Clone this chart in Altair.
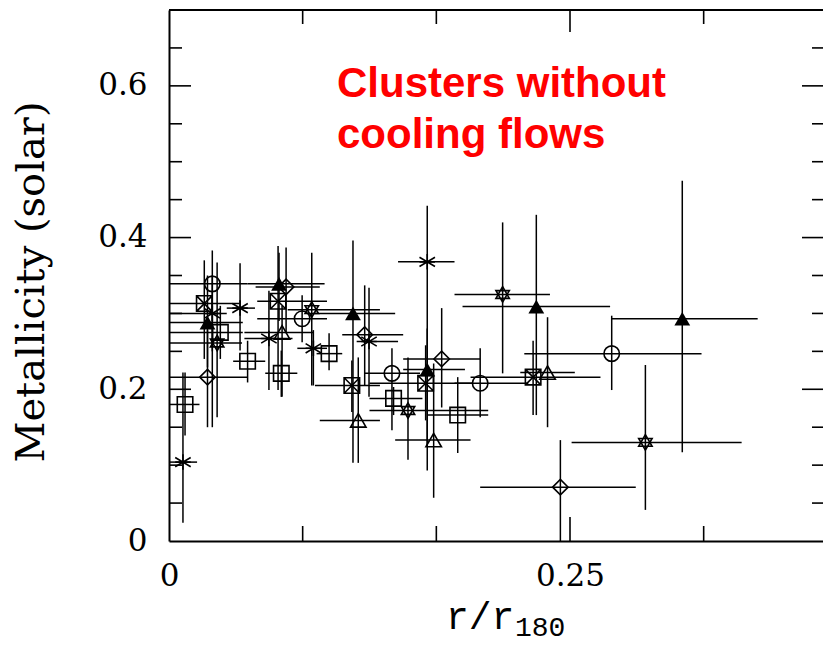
import altair as alt
import pandas as pd

# ---- data (r/r180, metallicity in solar units) ----
kind = ["ast", "square", "diamond", "ftri", "circle", "boxx", "ast", "square", "star", "ast",
        "square", "ast", "boxx", "ftri", "diamond", "tri", "square", "circle", "star", "ast",
        "square", "ftri", "boxx", "tri", "diamond", "ast", "ast", "star", "ftri", "diamond",
        "circle", "ftri", "boxx", "circle", "boxx", "tri", "square", "star", "square", "tri",
        "ftri", "circle", "star", "diamond"]
x_val = [0.0087, 0.010, 0.024, 0.024, 0.027, 0.022, 0.027, 0.032, 0.030, 0.0443,
         0.049, 0.0623, 0.068, 0.0686, 0.073, 0.0705, 0.070, 0.083, 0.089, 0.090,
         0.0998, 0.1147, 0.114, 0.118, 0.122, 0.1247, 0.161, 0.208, 0.229, 0.170,
         0.139, 0.161, 0.160, 0.194, 0.227, 0.236, 0.140, 0.149, 0.180, 0.165,
         0.320, 0.276, 0.297, 0.244]
y_val = [0.104, 0.180, 0.216, 0.288, 0.339, 0.313, 0.300, 0.275, 0.261, 0.307,
         0.237, 0.267, 0.316, 0.339, 0.335, 0.275, 0.221, 0.293, 0.305, 0.254,
         0.247, 0.300, 0.205, 0.159, 0.272, 0.263, 0.368, 0.325, 0.309, 0.240,
         0.221, 0.226, 0.208, 0.208, 0.216, 0.222, 0.188, 0.172, 0.166, 0.133,
         0.293, 0.247, 0.130, 0.071]
x_lo = [0.0006, 0.0, 0.0, 0.0, 0.0, 0.0, 0.0, 0.0, 0.0, 0.036,
        0.040, 0.047, 0.055, 0.049, 0.054, 0.047, 0.060, 0.055, 0.074, 0.080,
        0.092, 0.090, 0.091, 0.094, 0.108, 0.117, 0.1428, 0.178, 0.183, 0.146,
        0.122, 0.146, 0.125, 0.178, 0.188, 0.219, 0.125, 0.125, 0.161, 0.141,
        0.276, 0.2215, 0.251, 0.194]
x_hi = [0.0175, 0.019, 0.049, 0.046, 0.049, 0.044, 0.036, 0.046, 0.0455, 0.0536,
        0.060, 0.077, 0.0985, 0.097, 0.094, 0.090, 0.080, 0.0985, 0.1315, 0.0985,
        0.108, 0.141, 0.1315, 0.1315, 0.146, 0.1428, 0.178, 0.2375, 0.275, 0.194,
        0.1565, 0.1845, 0.1895, 0.224, 0.269, 0.253, 0.158, 0.199, 0.199, 0.188,
        0.367, 0.332, 0.357, 0.291]
y_lo = [0.024, 0.139, 0.150, 0.229, 0.150, 0.240, 0.250, 0.240, 0.163, 0.251,
        0.209, 0.199, 0.199, 0.290, 0.274, 0.190, 0.190, 0.262, 0.205, 0.205,
        0.225, 0.103, 0.170, 0.103, 0.205, 0.190, 0.126, 0.221, 0.166, 0.176,
        0.146, 0.093, 0.159, 0.163, 0.166, 0.150, 0.166, 0.107, 0.116, 0.057,
        0.117, 0.199, 0.041, 0.0]
y_hi = [0.222, 0.222, 0.278, 0.350, 0.383, 0.370, 0.350, 0.310, 0.367, 0.366,
        0.264, 0.330, 0.389, 0.380, 0.387, 0.310, 0.251, 0.324, 0.380, 0.278,
        0.274, 0.396, 0.238, 0.242, 0.337, 0.334, 0.442, 0.420, 0.430, 0.307,
        0.254, 0.280, 0.258, 0.254, 0.264, 0.295, 0.203, 0.242, 0.216, 0.234,
        0.475, 0.297, 0.232, 0.133]

y_minor_ticks = [0.05, 0.10, 0.15, 0.25, 0.30, 0.35, 0.45, 0.50, 0.55, 0.65]
y_major_ticks = [0.2, 0.4, 0.6]
x_minor_ticks = [1 / 12, 2 / 12, 4 / 12]
x_major_ticks = [0.25]
y_labels = [0, 0.2, 0.4, 0.6]
x_labels = [0, 0.25]

df = pd.DataFrame({"kind": kind, "x": x_val, "y": y_val,
                   "xlo": x_lo, "xhi": x_hi, "ylo": y_lo, "yhi": y_hi})

# svg = 161 + 654 = 815 px wide (the page body width), so it is not shrunk
W, H = 654, 531
xs = alt.Scale(domain=[0, 0.40773], nice=False, zero=False)
ys = alt.Scale(domain=[0, 0.7], nice=False, zero=False)

LABEL_FONT = "DejaVu Serif"

x_axis = alt.Axis(values=x_labels, format=".2~f", labelFont=LABEL_FONT, labelFontSize=31,
                  labelColor="black", labelPadding=20, labelFlush=False, labelOverlap=False,
                  ticks=False, tickSize=0, grid=False, domain=True, domainColor="black",
                  domainWidth=2, title=None)
y_axis = alt.Axis(values=y_labels, format=".1~f", labelFont=LABEL_FONT, labelFontSize=31,
                  labelColor="black", labelPadding=22, labelFlush=False, labelOverlap=False,
                  ticks=False, tickSize=0, grid=False, domain=True, domainColor="black",
                  domainWidth=2, title=None)

base = alt.Chart(df)
BAR = dict(color="black", strokeWidth=1.5)

hbars = base.mark_rule(**BAR).encode(
    x=alt.X("xlo:Q", scale=xs, axis=x_axis),
    x2="xhi:Q",
    y=alt.Y("y:Q", scale=ys, axis=y_axis),
)
vbars = base.mark_rule(**BAR).encode(
    x=alt.X("x:Q", scale=xs, axis=x_axis),
    y=alt.Y("ylo:Q", scale=ys, axis=y_axis),
    y2="yhi:Q",
)

BOXX = "M-1,-1L1,-1L1,1L-1,1Z M-1,-1L1,1 M1,-1L-1,1"
STAR = "M0,-1L0.866,0.5L-0.866,0.5Z M0,1L0.866,-0.5L-0.866,-0.5Z"
AST = "M-1,-0.6L1,0.6 M-1,0.6L1,-0.6 M0,-1L0,1 M-1,0L1,0"
shape_scale = alt.Scale(
    domain=["circle", "square", "boxx", "tri", "diamond", "ast", "star"],
    range=["circle", "square", BOXX, "triangle-up", "diamond", AST, STAR],
)

open_pts = base.transform_filter(alt.datum.kind != "ftri").mark_point(
    filled=False, color="black", strokeWidth=1.6, size=240, opacity=1
).encode(
    x=alt.X("x:Q", scale=xs, axis=x_axis),
    y=alt.Y("y:Q", scale=ys, axis=y_axis),
    shape=alt.Shape("kind:N", scale=shape_scale, legend=None),
)
filled_pts = base.transform_filter(alt.datum.kind == "ftri").mark_point(
    filled=True, shape="triangle-up", color="black", size=250, opacity=1
).encode(
    x=alt.X("x:Q", scale=xs, axis=x_axis),
    y=alt.Y("y:Q", scale=ys, axis=y_axis),
)

TICK = dict(color="black", strokeWidth=1.6)
ymin_df = pd.DataFrame({"v": y_minor_ticks})
ymaj_df = pd.DataFrame({"v": y_major_ticks})
xmin_df = pd.DataFrame({"v": x_minor_ticks})
xmaj_df = pd.DataFrame({"v": x_major_ticks})

def yticks(d, x0, x1):
    return alt.Chart(d).mark_rule(**TICK).encode(
        y=alt.Y("v:Q", scale=ys, axis=y_axis), x=alt.value(x0), x2=alt.value(x1))

def xticks(d, y0, y1):
    return alt.Chart(d).mark_rule(**TICK).encode(
        x=alt.X("v:Q", scale=xs, axis=x_axis), y=alt.value(y0), y2=alt.value(y1))

tick_layers = [
    yticks(ymin_df, 0, 13), yticks(ymaj_df, 0, 22),
    yticks(ymin_df, W - 11, W), yticks(ymaj_df, W - 21, W),
    xticks(xmin_df, H - 15, H), xticks(xmaj_df, H - 24, H),
    xticks(xmin_df, 0, 14), xticks(xmaj_df, 0, 22),
]

one = pd.DataFrame({"a": [0]})
top_frame = alt.Chart(one).mark_rule(color="black", strokeWidth=2).encode(
    x=alt.value(0), x2=alt.value(W), y=alt.value(0))

y_title = alt.Chart(one).mark_text(
    angle=270, font=LABEL_FONT, fontSize=40, color="black", align="center", baseline="middle"
).encode(x=alt.value(-137), y=alt.value(272), text=alt.value("Metallicity (solar)"))

x_title = alt.Chart(one).mark_text(
    font="Liberation Mono", fontSize=38, color="black", align="left", baseline="alphabetic"
).encode(x=alt.value(277), y=alt.value(619), text=alt.value("r/r"))
x_sub = alt.Chart(one).mark_text(
    font="Liberation Mono", fontSize=28, color="black", align="left", baseline="alphabetic"
).encode(x=alt.value(346), y=alt.value(626), text=alt.value("180"))

note = alt.Chart(one).mark_text(
    font="Liberation Sans", fontWeight="bold", fontSize=42, color="#FF0000",
    align="left", baseline="alphabetic", lineHeight=51
).encode(x=alt.value(168), y=alt.value(87),
         text=alt.value(["Clusters without", "cooling flows"]))

chart = alt.layer(
    hbars, vbars, open_pts, filled_pts, top_frame, *tick_layers,
    y_title, x_title, x_sub, note
).properties(
    width=W, height=H,
    padding={"left": 161, "top": 2, "right": 0, "bottom": 104},
    autosize=alt.AutoSizeParams(type="none"),
    background="white",
).configure_view(stroke=None)

chart.save("out.html", embed_options={"renderer": "svg", "actions": False})
